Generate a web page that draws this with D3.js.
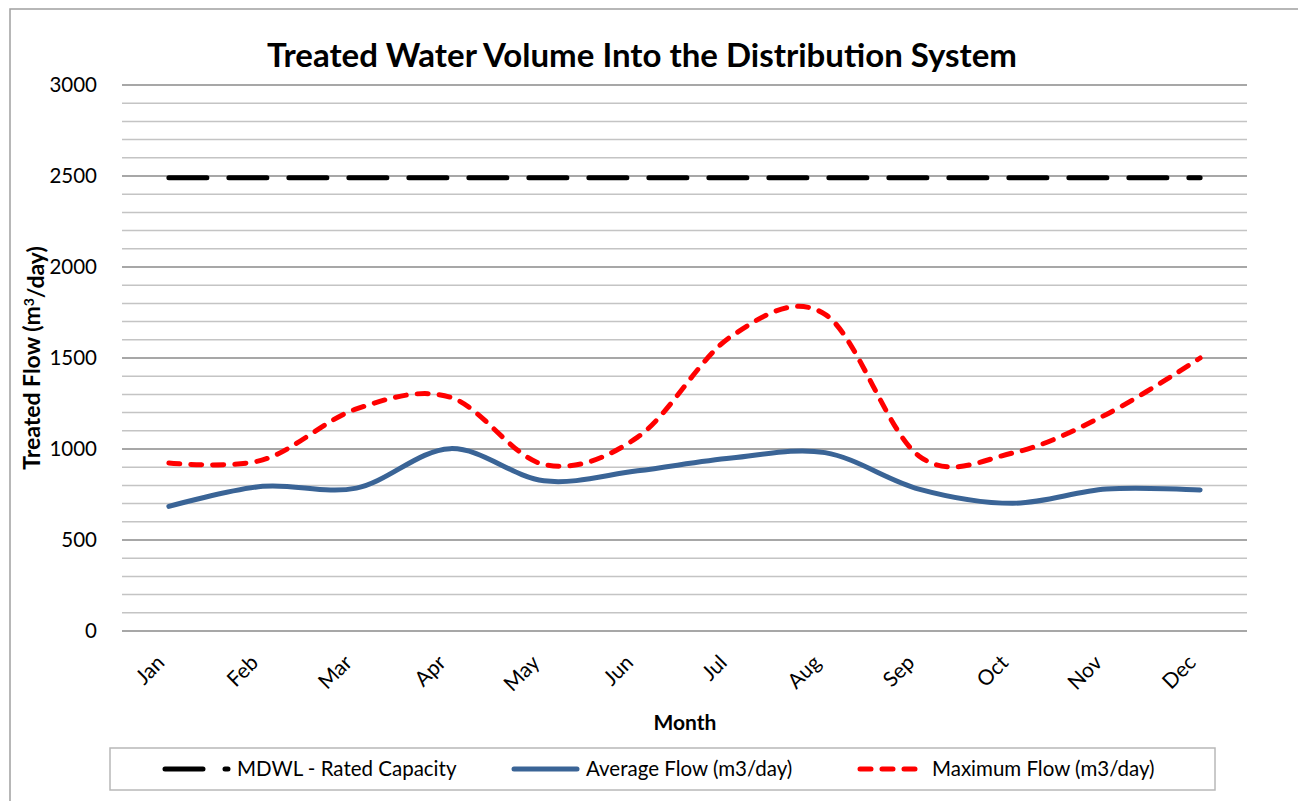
<!DOCTYPE html>
<html>
<head>
	<style>
	body {
		margin: 0;
		background: #fff;
	}
	text {
		font-family: Lato, "Open Sans", sans-serif;
		fill: #000;
	}
	</style>
</head>
<body>
	<script src="https://d3js.org/d3.v7.min.js"></script>
	<script>
	var months = ["Jan", "Feb", "Mar", "Apr", "May", "Jun", "Jul", "Aug", "Sep", "Oct", "Nov", "Dec"];
	var ratedCapacity = [2490, 2490, 2490, 2490, 2490, 2490, 2490, 2490, 2490, 2490, 2490, 2490];
	var averageFlow = [685, 795, 785, 1002, 825, 880, 950, 980, 780, 702, 780, 775];
	var maximumFlow = [923, 940, 1220, 1285, 915, 1065, 1620, 1740, 962, 978, 1190, 1500];
	var yTicks = [0, 500, 1000, 1500, 2000, 2500, 3000];

	var width = 1298, height = 801;

	var svg = d3.select("body").append("svg")
			.attr("width", width)
			.attr("height", height);

	// outer chart frame (runs off the right / bottom edge)
	svg.append("rect")
			.attr("x", 10)
			.attr("y", 9)
			.attr("width", 1400)
			.attr("height", 900)
			.style("fill", "none")
			.style("stroke", "#a0a0a0")
			.style("stroke-width", 1.5);

	var plotLeft = 122, plotRight = 1247, plotTop = 85, plotBottom = 631;

	var x = d3.scaleBand()
		.domain(months)
		.range([plotLeft, plotRight]);

	var y = d3.scaleLinear()
		.domain([0, 3000])
		.range([plotBottom, plotTop]);

	function cx(d){ return x(d) + x.bandwidth() / 2; }

	// gridlines, minor every 100, major every 500
	var grid = d3.range(0, 3001, 100);
	svg.selectAll(".grid").data(grid).enter().append("line")
			.attr("class", "grid")
			.attr("x1", plotLeft)
			.attr("x2", plotRight)
			.attr("y1", function(d){ return y(d); })
			.attr("y2", function(d){ return y(d); })
			.style("stroke", function(d){ return d % 500 == 0 ? "#8a8a8a" : "#c4c4c4"; })
			.style("stroke-width", 1.5);

	// y tick labels
	svg.selectAll(".ytick").data(yTicks).enter().append("text")
			.attr("class", "ytick")
			.attr("x", 97)
			.attr("y", function(d){ return y(d); })
			.attr("dy", "0.35em")
			.attr("text-anchor", "end")
			.style("font-size", "20.5px")
			.text(function(d){ return d; });

	// x tick labels, rotated
	svg.selectAll(".xtick").data(months).enter().append("text")
			.attr("class", "xtick")
			.attr("transform", function(d){ return "translate(" + (cx(d) - 3) + "," + 664 + ") rotate(-45)"; })
			.attr("text-anchor", "end")
			.style("font-size", "21px")
			.text(function(d){ return d; });

	// titles
	svg.append("text")
			.attr("x", 642)
			.attr("y", 67)
			.attr("text-anchor", "middle")
			.style("font-size", "33px")
			.style("font-weight", "bold")
			.text("Treated Water Volume Into the Distribution System");

	svg.append("text")
			.attr("x", 685)
			.attr("y", 730)
			.attr("text-anchor", "middle")
			.style("font-size", "21px")
			.style("font-weight", "bold")
			.text("Month");

	var yTitle = svg.append("text")
			.attr("transform", "translate(40," + ((plotTop + plotBottom) / 2) + ") rotate(-90)")
			.attr("text-anchor", "middle")
			.style("font-size", "23px")
			.style("font-weight", "bold");
	yTitle.append("tspan").text("Treated Flow (m");
	yTitle.append("tspan").attr("dy", "-0.45em").style("font-size", "14px").text("3");
	yTitle.append("tspan").attr("dy", "0.45em").text("/day)");

	var line = d3.line()
		.x(function(d, i){ return cx(months[i]); })
		.y(function(d){ return y(d); });

	var smooth = d3.line()
		.x(function(d, i){ return cx(months[i]); })
		.y(function(d){ return y(d); })
		.curve(d3.curveCatmullRom.alpha(0));

	var series = [
		{name: "MDWL - Rated Capacity", values: ratedCapacity, color: "#000", dash: "38,22", gen: line},
		{name: "Average Flow (m3/day)", values: averageFlow, color: "#3a6496", dash: null, gen: smooth},
		{name: "Maximum Flow (m3/day)", values: maximumFlow, color: "#ff0000", dash: "11,11", gen: smooth}
	];

	series.forEach(function(s){
		svg.append("path")
				.attr("d", s.gen(s.values))
				.style("fill", "none")
				.style("stroke", s.color)
				.style("stroke-width", 5)
				.style("stroke-linecap", "round")
				.style("stroke-linejoin", "round")
				.style("stroke-dasharray", s.dash);
	});

	// legend
	svg.append("rect")
			.attr("x", 110)
			.attr("y", 748)
			.attr("width", 1105)
			.attr("height", 42)
			.style("fill", "#fff")
			.style("stroke", "#b8b8b8")
			.style("stroke-width", 1.5);

	var legendX = [165, 514, 860];
	series.forEach(function(s, i){
		svg.append("line")
				.attr("x1", legendX[i])
				.attr("x2", legendX[i] + 63)
				.attr("y1", 769)
				.attr("y2", 769)
				.style("stroke", s.color)
				.style("stroke-width", 5)
				.style("stroke-linecap", "round")
				.style("stroke-dasharray", s.dash);
		svg.append("text")
				.attr("x", legendX[i] + 72)
				.attr("y", 769)
				.attr("dy", "0.35em")
				.style("font-size", "20.5px")
				.text(s.name);
	});
	</script>
</body>
</html>
